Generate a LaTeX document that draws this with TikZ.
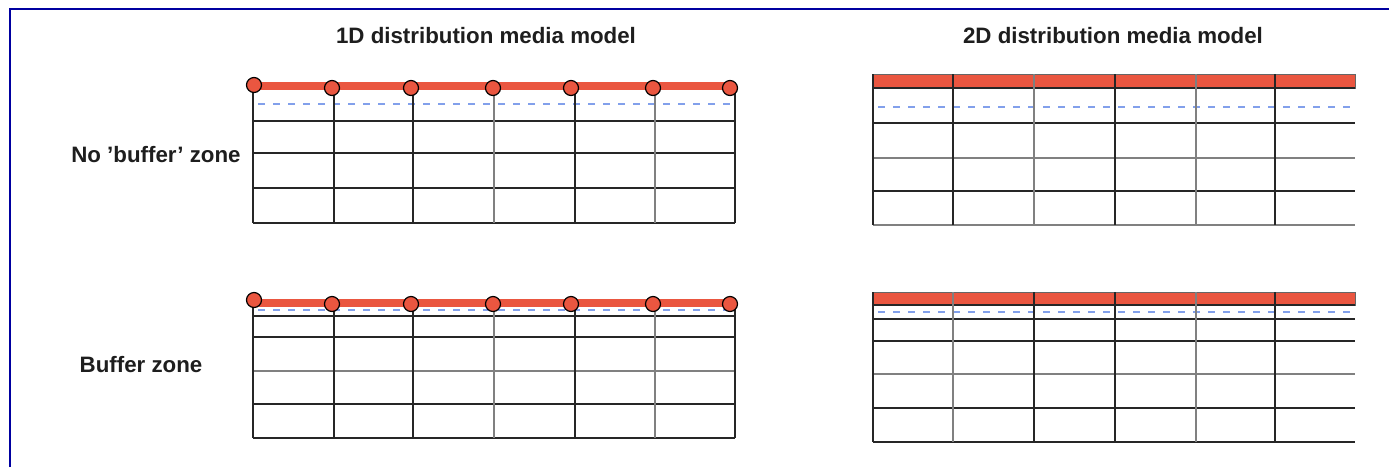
\documentclass[tikz,border=0pt]{standalone}
\usepackage{fontspec}
\setmainfont{Liberation Sans}
\definecolor{frameblue}{RGB}{0,0,160}
\definecolor{redbar}{RGB}{234,86,64}
\definecolor{dashblue}{RGB}{130,160,235}
\definecolor{txt}{RGB}{30,30,30}
\tikzset{
  gridline/.style={line width=1.6pt, black!85},
  greyline/.style={line width=2pt, black!50},
  redline/.style={line width=8pt, redbar},
  dot/.style={circle, draw=black, line width=1.2pt, fill=redbar, minimum size=15pt, inner sep=0pt},
  dashline/.style={dashblue, line width=1.5pt, dash pattern=on 7pt off 8pt},
  lbl/.style={font=\fontsize{22.3}{24}\selectfont\bfseries, text=txt, inner sep=0pt},
  band/.style={fill=redbar, draw=black!60, line width=0.8pt}
}
\begin{document}
\begin{tikzpicture}[x=1pt,y=-1pt]
\useasboundingbox (0,0) rectangle (1389,467);
\fill[white] (0,0) rectangle (1389,467);
% frame
\draw[frameblue, line width=2.5pt] (10,467) -- (10,9) -- (1389,9);
% titles
\node[lbl] (t1) at (486,36) {1D distribution media model};
\node[lbl] (t2) at (1113,36) {2D distribution media model};
\node[lbl] (l1) at (156,155) {No 'buffer' zone};
\node[lbl] (l2) at (141,365) {Buffer zone};

% ---------- 1D, no buffer ----------
\draw[dashline] (258,104) -- (733,104);
\foreach \y in {121,153,188,223} \draw[gridline] (253,\y) -- (735,\y);
\foreach \x in {253,334,413,575,735} \draw[gridline] (\x,86) -- (\x,223);
\foreach \x in {494,655} \draw[greyline] (\x,86) -- (\x,223);
\draw[redline] (253,86) -- (733,86);
\node[dot] (a1) at (254,85) {};
\foreach \x [count=\i from 2] in {332,411,493,571,653,730} \node[dot] (a\i) at (\x,88) {};

% ---------- 1D, buffer ----------
\draw[dashline] (258,310) -- (733,310);
\foreach \y in {316,337,404,438} \draw[gridline] (253,\y) -- (735,\y);
\draw[greyline] (253,371) -- (735,371);
\foreach \x in {253,334,413,575,735} \draw[gridline] (\x,303) -- (\x,438);
\foreach \x in {494,655} \draw[greyline] (\x,303) -- (\x,438);
\draw[redline] (253,303) -- (733,303);
\node[dot] (b1) at (254,300) {};
\foreach \x [count=\i from 2] in {332,411,493,571,653,730} \node[dot] (b\i) at (\x,304) {};

% ---------- 2D, no buffer ----------
\draw[band] (873,74) rectangle (1355,88);
\draw[dashline] (878,107) -- (1352,107);
\foreach \y in {88,123,191} \draw[gridline] (873,\y) -- (1355,\y);
\foreach \y in {158,225} \draw[greyline] (873,\y) -- (1355,\y);
\foreach \x in {873,953,1115,1275} \draw[gridline] (\x,74) -- (\x,225);
\foreach \x in {1034,1196} \draw[greyline] (\x,74) -- (\x,225);

% ---------- 2D, buffer ----------
\draw[band] (873,292) rectangle (1355,305);
\draw[dashline] (878,312) -- (1352,312);
\foreach \y in {305,319,341,408,442} \draw[gridline] (873,\y) -- (1355,\y);
\draw[greyline] (873,374) -- (1355,374);
\foreach \x in {873,1034,1115,1275} \draw[gridline] (\x,292) -- (\x,442);
\foreach \x in {953,1196} \draw[greyline] (\x,292) -- (\x,442);
\end{tikzpicture}
\end{document}
